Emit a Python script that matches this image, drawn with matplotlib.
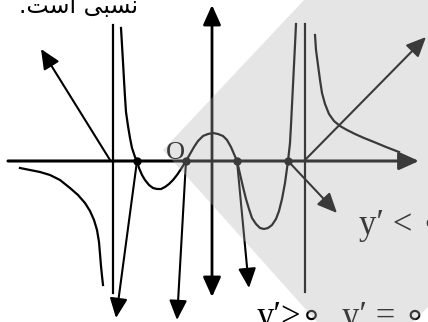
import numpy as np
import matplotlib.pyplot as plt

# branch of the graph between the two vertical asymptotes
curve_x = [-9.1, -9.0, -8.9, -8.8, -8.7, -8.6, -8.4, -8.2, -8.0, -7.7, -7.5, -7.3, -7.0,
           -6.7, -6.3, -5.9, -5.5, -5.1, -4.7, -4.3, -3.9, -3.5, -3.1, -2.6, -2.2, -1.8,
           -1.4, -0.9, -0.4, 0.1, 0.6, 1.1, 1.5, 1.9, 2.2, 2.5, 2.8, 3.1, 3.4, 3.7, 4.0,
           4.4, 4.8, 5.2, 5.6, 6.0, 6.4, 6.7, 7.0, 7.3, 7.6, 7.8, 7.9, 8.0, 8.1, 8.2,
           8.3, 8.4]
curve_y = [13.3, 11.6, 9.9, 8.1, 6.4, 4.9, 3.5, 2.3, 1.3, 0.4, 0.0, -0.7, -1.4,
           -1.9, -2.4, -2.7, -2.8, -2.8, -2.6, -2.3, -1.9, -1.4, -0.8, 0.0, 0.7, 1.4,
           2.0, 2.5, 2.7, 2.8, 2.7, 2.5, 2.1, 1.4, 0.7, 0.0, -1.3, -2.6, -3.8, -4.8, -5.7,
           -6.3, -6.7, -6.8, -6.7, -6.4, -5.8, -5.0, -3.8, -2.2, 0.0, 1.8, 3.6, 5.6, 7.6, 9.6,
           11.6, 13.7]
# branch left of the left asymptote
left_x = [-19.2, -18.2, -17.2, -16.2, -15.2, -14.2, -13.4, -12.7, -12.2, -11.8, -11.5,
          -11.3, -11.2, -11.1, -11.0, -10.9]
left_y = [-0.7, -0.9, -1.1, -1.4, -1.9, -2.7, -3.4, -4.2, -5.0, -5.9, -6.9,
          -8.1, -9.3, -10.5, -11.5, -12.4]
# branch right of the right asymptote
right_x = [10.3, 10.4, 10.6, 10.8, 11.0, 11.3, 11.7, 12.2, 12.8, 13.5, 14.3, 15.2, 16.2,
           17.4, 18.7]
right_y = [12.6, 11.1, 9.6, 8.1, 6.8, 5.7, 4.7, 4.0, 3.5, 3.1, 2.7, 2.3, 1.9,
           1.4, 0.9]

roots = [-7.5, -2.6, 2.5, 7.6]
asym_x = [-9.9, 9.3]
asym_top = [13.6, 13.7]
asym_bottom = [-13.2, -13.1]

x_axis = [-20.4, 20.7]
y_axis = [-13.6, 15.6]

# arrows: (start, end)
arrows = [((-10.2, 0.1), (-17.1, 11.2)),
          ((-7.5, 0.0), (-9.6, -15.7)),
          ((-2.6, 0.0), (-3.5, -15.9)),
          ((2.5, 0.0), (3.7, -12.7)),
          ((7.6, 0.0), (12.5, -5.2)),
          ((9.3, 0.1), (21.4, 12.4))]

shade_x = [9.2, 21.6, 21.6, 20.1, 10.5, -4.9]
shade_y = [16.1, 16.1, -14.6, -16.1, -16.1, 1.1]

title = ".ﺖﺳﺍ ﻰﺒﺴﻧ"
labels = ["y′ < ∘", "y′>∘", "y′ = ∘"]
label_pos = [(14.7, -7.3), (4.5, -16.5), (13.0, -16.5)]

fig = plt.figure(figsize=(4.28, 3.22), dpi=100)
ax = fig.add_axes([0, 0, 1, 1])
ax.set_xlim(-21.2, 21.6)
ax.set_ylim(-16.1, 16.1)
ax.axis('off')

head = '-|>,head_length=0.6,head_width=0.27'

# axes
ax.annotate('', xy=(x_axis[1], 0), xytext=(x_axis[0], 0),
            arrowprops=dict(arrowstyle=head, mutation_scale=20, lw=2.2, color='k',
                            shrinkA=0, shrinkB=0))
ax.annotate('', xy=(0, y_axis[1]), xytext=(0, y_axis[0]),
            arrowprops=dict(arrowstyle='<|-|>,head_length=0.6,head_width=0.27',
                            mutation_scale=20, lw=2.0, color='k', shrinkA=0, shrinkB=0))

for xa, yt, yb in zip(asym_x, asym_top, asym_bottom):
    ax.plot([xa, xa], [yb, yt], color='k', lw=1.6)

ax.plot(curve_x, curve_y, color='k', lw=1.6)
ax.plot(left_x, left_y, color='k', lw=1.6)
ax.plot(right_x, right_y, color='k', lw=1.6)

for start, end in arrows:
    ax.annotate('', xy=end, xytext=start,
                arrowprops=dict(arrowstyle=head, mutation_scale=20, lw=1.5, color='k',
                                shrinkA=0, shrinkB=0))

ax.plot(roots, [0] * len(roots), 'o', color='k', ms=5)

ax.text(-7.4, 14.8, title, ha='right', va='baseline', fontsize=17,
        family=['DejaVu Sans'])
ax.text(-3.7, 0.2, "O", ha='center', va='baseline', fontsize=19,
        family=['Liberation Serif'])
for txt, (tx, ty) in zip(labels, label_pos):
    ax.text(tx, ty, txt, ha='left', va='baseline', fontsize=25,
            family=['Liberation Serif', 'DejaVu Sans'])

# light grey sheet lying over the right part of the figure
ax.fill(shade_x, shade_y, color='0.7', alpha=0.33, lw=0, zorder=10)

fig.savefig('out.png', dpi=100)
